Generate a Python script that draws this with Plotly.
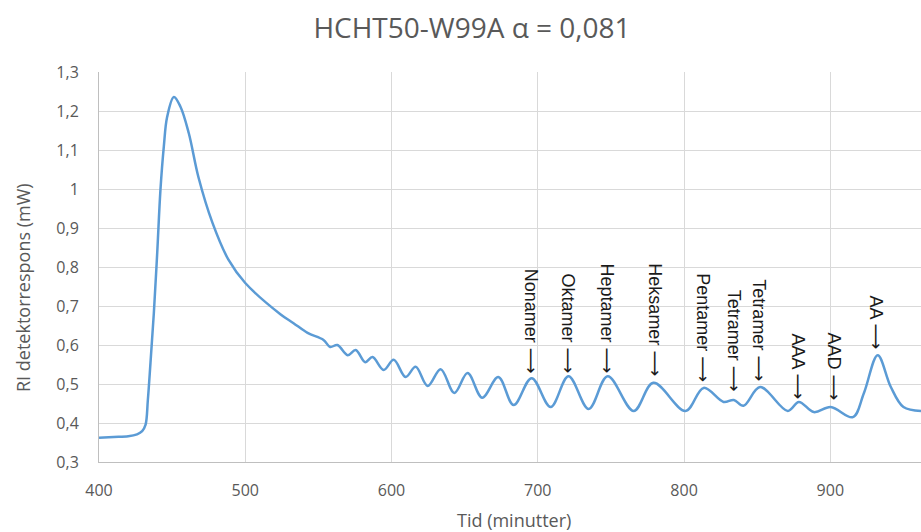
import plotly.graph_objects as go

# Chromatogram trace (time in minutes, RI detector response in mW)
tid = [400, 410, 420, 426, 429.5, 431.8, 433.4, 435.2, 437.5, 439.8, 442, 444.3, 446.6,
       451.2, 455.7, 461.4, 468, 477.6, 488.6, 500, 524, 533, 542.6, 553.5,
       558, 563, 570, 575.5, 582, 587, 594.6, 601.5, 609.6, 616.5, 624.7, 633.6,
       643, 652, 662, 673, 683.5, 695.8, 708.8, 721, 734.8, 747.8, 765.6, 779,
       801, 813.4, 827, 834, 840.6, 852, 870.9, 878.5, 888.7, 900.3, 915.4, 923,
       932.4, 941.3, 950, 962]
respons = [0.362, 0.364, 0.366, 0.371, 0.379, 0.395, 0.459, 0.554, 0.682, 0.836, 0.997, 1.108, 1.185,
           1.236, 1.211, 1.143, 1.03, 0.913, 0.818, 0.759, 0.679, 0.656, 0.631, 0.613,
           0.595, 0.600, 0.574, 0.587, 0.556, 0.569, 0.536, 0.562, 0.518, 0.544, 0.495, 0.538,
           0.477, 0.528, 0.465, 0.518, 0.446, 0.515, 0.441, 0.520, 0.436, 0.520, 0.431, 0.503,
           0.431, 0.490, 0.454, 0.459, 0.444, 0.492, 0.431, 0.454, 0.428, 0.441, 0.415, 0.477,
           0.574, 0.493, 0.441, 0.431]

# Peak labels
etiketter = ["Nonamer", "Oktamer", "Heptamer", "Heksamer", "Pentamer",
             "Tetramer", "Tetramer", "AAA", "AAD", "AA"]
etikett_x = [696.3, 721.1, 747.8, 780.6, 813.1, 834.7, 851.8, 878.5, 903.1, 931.8]
etikett_y = [0.6615, 0.656, 0.669, 0.664, 0.645, 0.6115, 0.638, 0.545, 0.545, 0.658]

x_ticks = [400, 500, 600, 700, 800, 900]
y_ticks = [0.3, 0.4, 0.5, 0.6, 0.7, 0.8, 0.9, 1.0, 1.1, 1.2, 1.3]
y_ticktext = ["0,3", "0,4", "0,5", "0,6", "0,7", "0,8", "0,9", "1", "1,1", "1,2", "1,3"]

fig = go.Figure()
fig.add_trace(go.Scatter(
    x=tid, y=respons, mode="lines",
    line=dict(color="#5B9BD5", width=2.5, shape="spline", smoothing=1.0),
    showlegend=False, hoverinfo="skip"))

annotations = []
for t, ex, ey in zip(etiketter, etikett_x, etikett_y):
    annotations.append(dict(
        x=ex, y=ey, xref="x", yref="y",
        text=t + ' <span style="font-family:DejaVu Sans">\u27f6</span>',
        textangle=90, showarrow=False, xanchor="center", yanchor="middle",
        font=dict(family="Liberation Sans", size=18, color="#1a1a1a")))

annotations.append(dict(
    x=(23 - 99) / 822, y=(462 - 288) / 390, xref="paper", yref="paper",
    text="RI detektorrespons (mW)", textangle=-90, showarrow=False,
    xanchor="center", yanchor="middle",
    font=dict(family="Open Sans", size=18, color="#595959")))
annotations.append(dict(
    x=(514 - 99) / 822, y=(462 - 520) / 390, xref="paper", yref="paper",
    text="Tid (minutter)", showarrow=False, xanchor="center", yanchor="middle",
    font=dict(family="Open Sans", size=18, color="#595959")))

fig.update_layout(
    width=921, height=532,
    margin=dict(l=99, r=0, t=72, b=70),
    paper_bgcolor="white", plot_bgcolor="white",
    title=dict(text="HCHT50-W99A \u03b1 = 0,081", x=472 / 921, xanchor="center",
               y=1 - 28 / 532, yanchor="middle",
               font=dict(family="Open Sans", size=28, color="#595959")),
    annotations=annotations,
    xaxis=dict(range=[400, 962], tickvals=x_ticks, showgrid=True, gridcolor="#D9D9D9",
               gridwidth=1, showline=True, linecolor="#BFBFBF", linewidth=1,
               zeroline=False, ticks="", ticklabelstandoff=14,
               tickfont=dict(family="Open Sans", size=16, color="#595959")),
    yaxis=dict(range=[0.3, 1.3], tickvals=y_ticks, ticktext=y_ticktext, showgrid=True,
               gridcolor="#D9D9D9", gridwidth=1, showline=True, linecolor="#BFBFBF",
               linewidth=1, zeroline=False, ticks="", ticklabelstandoff=16,
               tickfont=dict(family="Open Sans", size=16, color="#595959")),
)

fig.write_html("out.html", config={"displayModeBar": False},
               post_script="document.body.style.margin='0';")
